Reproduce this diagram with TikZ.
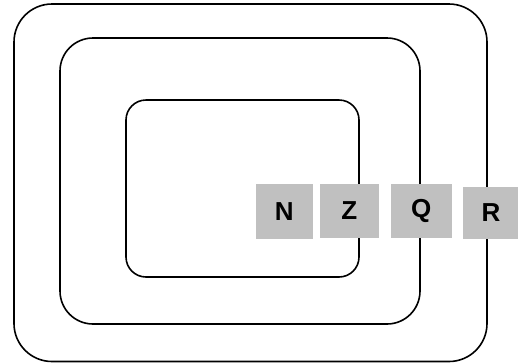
\documentclass[tikz,border=0pt]{standalone}
\usepackage{fontspec}
\setmainfont{Liberation Sans}
\definecolor{boxgray}{HTML}{C0C0C0}
\begin{document}
\begin{tikzpicture}[x=1bp,y=-1bp,
  ring/.style={draw=black,line width=1.6bp},
  letterbox/.style={fill=boxgray,inner sep=0pt,
    font=\fontsize{26bp}{30bp}\selectfont\bfseries}]
\useasboundingbox (0,0) rectangle (518,363);
% nested frames
\draw[ring,rounded corners=38bp] (14,4) rectangle (487,361.5);
\draw[ring,rounded corners=33bp] (60,38) rectangle (420,324);
\draw[ring,rounded corners=20bp] (126,100) rectangle (359,277);
% grey letter boxes
\node[letterbox,minimum width=57bp,minimum height=55bp] (n) at (284.3,211.7) {N};
\node[letterbox,minimum width=59bp,minimum height=54bp] (z) at (349.3,211) {Z};
\node[letterbox,minimum width=61bp,minimum height=54bp] (q) at (421.3,211) {Q};
\node[letterbox,minimum width=56bp,minimum height=52bp] (r) at (491,213) {\raisebox{-3bp}{R}};
\end{tikzpicture}
\end{document}
